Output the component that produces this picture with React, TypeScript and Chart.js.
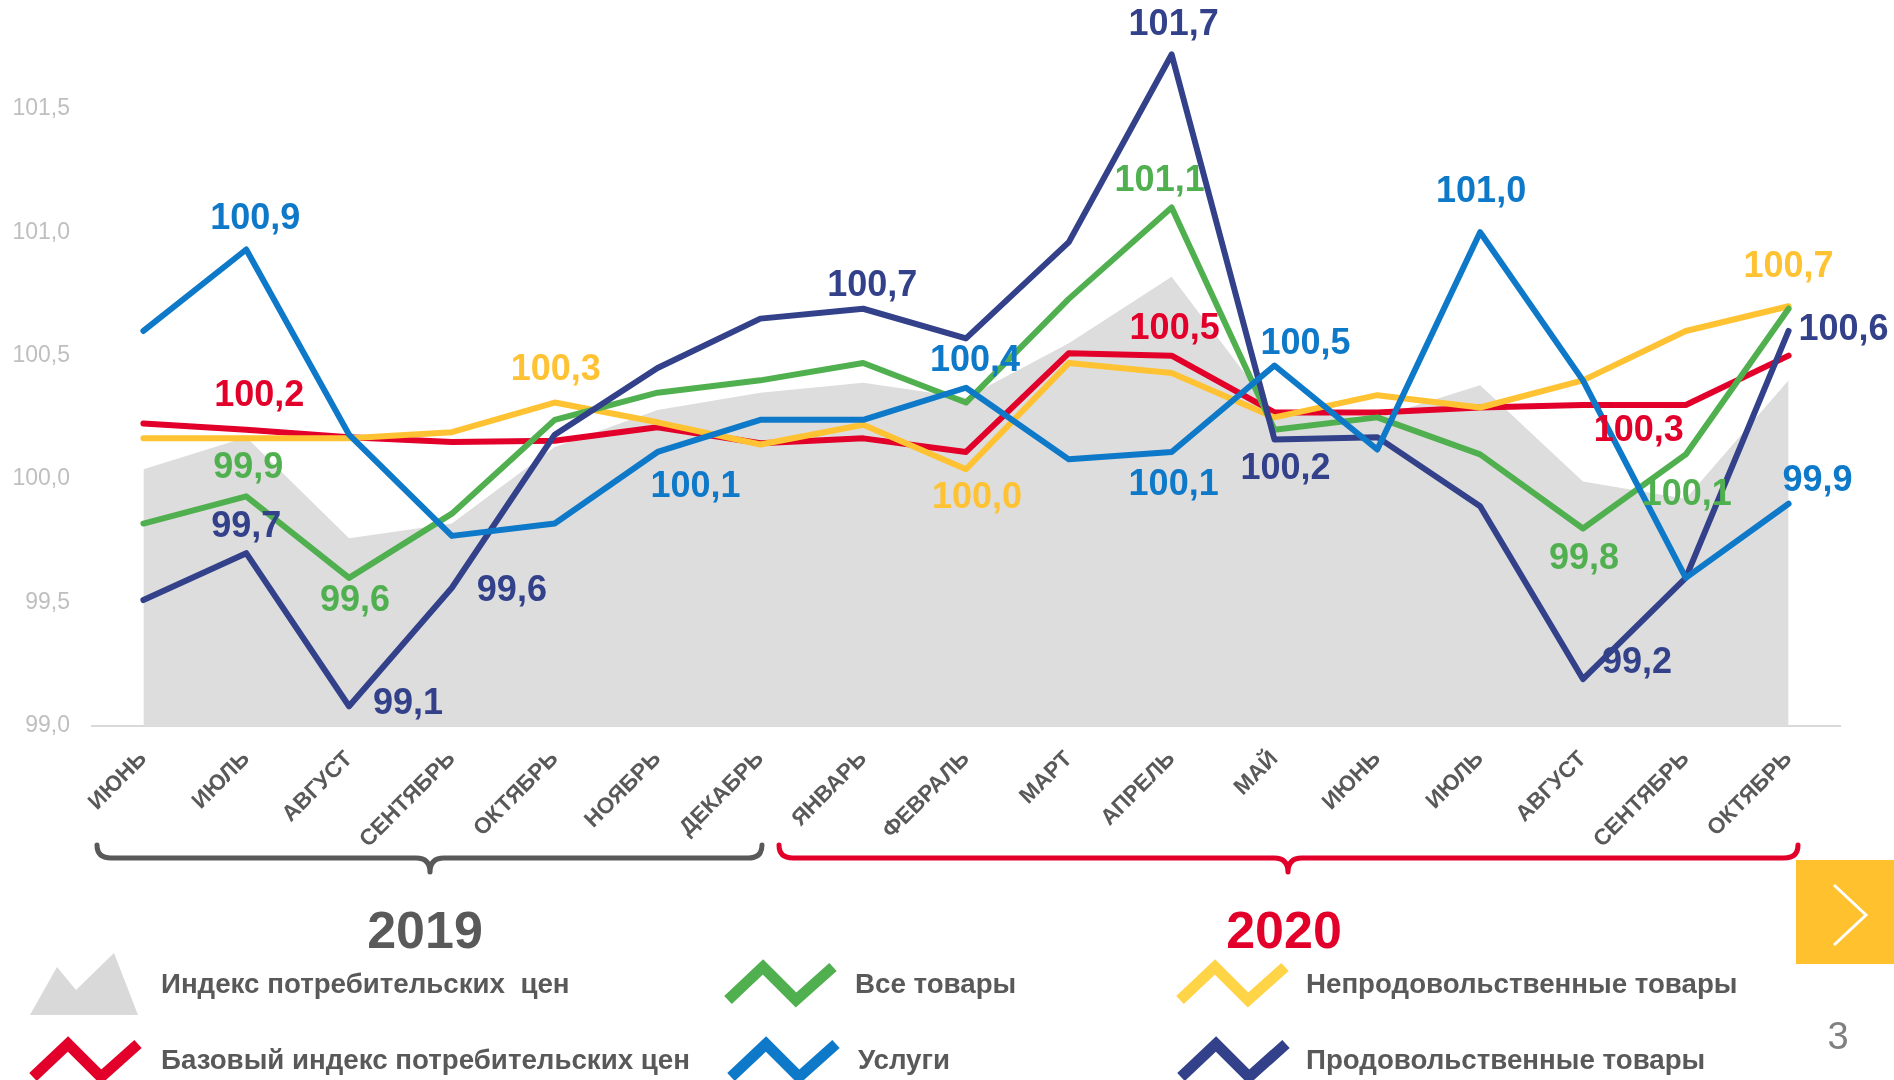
import React, { useEffect, useRef } from "react";
import { Chart, registerables } from "chart.js";

Chart.register(...registerables);

const FONT = '"Liberation Sans", Arial, Helvetica, sans-serif';

// ---- data ----
const months = [
  "ИЮНЬ", "ИЮЛЬ", "АВГУСТ", "СЕНТЯБРЬ", "ОКТЯБРЬ", "НОЯБРЬ", "ДЕКАБРЬ",
  "ЯНВАРЬ", "ФЕВРАЛЬ", "МАРТ", "АПРЕЛЬ", "МАЙ", "ИЮНЬ", "ИЮЛЬ", "АВГУСТ", "СЕНТЯБРЬ", "ОКТЯБРЬ",
];
const cpi = [100.04, 100.17, 99.76, 99.82, 100.13, 100.28, 100.35, 100.39, 100.33, 100.55, 100.82, 100.27, 100.25, 100.38, 99.99, 99.92, 100.4];
const coreCpi = [100.225, 100.2, 100.17, 100.15, 100.155, 100.21, 100.145, 100.165, 100.11, 100.51, 100.5, 100.27, 100.27, 100.29, 100.3, 100.3, 100.5];
const allGoods = [99.82, 99.93, 99.6, 99.86, 100.24, 100.35, 100.4, 100.47, 100.31, 100.73, 101.1, 100.2, 100.25, 100.1, 99.8, 100.1, 100.69];
const nonFood = [100.165, 100.165, 100.165, 100.19, 100.31, 100.23, 100.14, 100.22, 100.04, 100.47, 100.43, 100.25, 100.34, 100.29, 100.4, 100.6, 100.7];
const services = [100.6, 100.93, 100.18, 99.77, 99.82, 100.11, 100.24, 100.24, 100.37, 100.08, 100.11, 100.46, 100.12, 101.0, 100.4, 99.6, 99.9];
const food = [99.51, 99.7, 99.08, 99.56, 100.18, 100.45, 100.65, 100.69, 100.57, 100.96, 101.72, 100.16, 100.17, 99.89, 99.19, 99.6, 100.6];
const yTicks = [99.0, 99.5, 100.0, 100.5, 101.0, 101.5];
const yearLabels = ["2019", "2020"];
const legendNames = [
  "Индекс потребительских  цен",
  "Все товары",
  "Непродовольственные товары",
  "Базовый индекс потребительских цен",
  "Услуги",
  "Продовольственные товары",
];

// ---- styles ----
const C_GRAY = "#DDDDDD";
const C_RED = "#E2002A";
const C_GREEN = "#50B04F";
const C_YELLOW = "#FFC233";
const C_BLUE = "#0E79C9";
const C_NAVY = "#33418A";

// label placements: [pointIndex, dx, dy]
const labelsRed = [[1, 13, -34], [10, 3, -27], [15, -47, 26]];
const labelsYellow = [[4, 1, -32], [8, 11, 29], [16, 0, -39]];
const labelsGreen = [[1, 2, -28], [2, 6, 23], [10, -12, -26], [14, 1, 31], [15, 1, 41]];
const labelsNavy = [[1, 0, -26], [2, 59, -2], [3, 60, 3], [7, 9, -23], [10, 2, -29], [11, 11, 29], [14, 54, -16], [16, 55, -1]];
const labelsBlue = [[1, 9, -30], [5, 38, 35], [8, 9, -27], [10, 2, 33], [11, 31, -21], [13, 1, -40], [16, 29, -23]];

const fmt = (v: number) => (Math.round(v * 10) / 10).toFixed(1).replace(".", ",");

const valueLabelPlugin = {
  id: "valueLabels",
  afterDatasetsDraw(chart: any) {
    const ctx = chart.ctx;
    ctx.save();
    ctx.font = `bold 36px ${FONT}`;
    ctx.textAlign = "center";
    ctx.textBaseline = "middle";
    chart.data.datasets.forEach((ds: any, di: number) => {
      if (!ds.valueLabels) return;
      const meta = chart.getDatasetMeta(di);
      ds.valueLabels.forEach(([i, dx, dy]: number[]) => {
        const p = meta.data[i];
        if (!p) return;
        ctx.fillStyle = ds.labelColor;
        ctx.fillText(fmt(ds.data[i]), p.x + dx, p.y + dy);
      });
    });
    ctx.restore();
  },
};

function Zig({ L, T, color }: { L: number; T: number; color: string }) {
  const pts = `${L + 6},${T + 40} ${L + 41},${T + 7} ${L + 74},${T + 40} ${L + 111},${T + 7}`;
  return <polyline points={pts} fill="none" stroke={color} strokeWidth={11} strokeLinejoin="miter" strokeLinecap="butt" />;
}

function Brace({ x1, x2, cx, color }: { x1: number; x2: number; cx: number; color: string }) {
  const top = 845, mid = 858, tip = 872, r = 14;
  const d = `M ${x1} ${top} Q ${x1} ${mid} ${x1 + r} ${mid} L ${cx - r} ${mid} Q ${cx} ${mid} ${cx} ${tip} Q ${cx} ${mid} ${cx + r} ${mid} L ${x2 - r} ${mid} Q ${x2} ${mid} ${x2} ${top}`;
  return <path d={d} fill="none" stroke={color} strokeWidth={5} strokeLinecap="round" strokeLinejoin="round" />;
}

export default function App() {
  const ref = useRef<HTMLCanvasElement>(null);

  useEffect(() => {
    const line = (label: string, data: number[], color: string, order: number, valueLabels: number[][]) => ({
      type: "line" as const,
      label,
      data,
      borderColor: color,
      backgroundColor: color,
      borderWidth: 6,
      pointRadius: 0,
      tension: 0,
      fill: false,
      order,
      borderCapStyle: "round",
      borderJoinStyle: "round",
      valueLabels,
      labelColor: color,
    });

    const chart = new Chart(ref.current!, {
      type: "line",
      data: {
        labels: months,
        datasets: [
          {
            label: legendNames[0],
            data: cpi,
            fill: "origin",
            backgroundColor: C_GRAY,
            borderColor: C_GRAY,
            borderWidth: 0,
            pointRadius: 0,
            tension: 0,
            order: 10,
          } as any,
          line(legendNames[3], coreCpi, C_RED, 5, labelsRed),
          line(legendNames[2], nonFood, C_YELLOW, 4, labelsYellow),
          line(legendNames[1], allGoods, C_GREEN, 3, labelsGreen),
          line(legendNames[5], food, C_NAVY, 2, labelsNavy),
          line(legendNames[4], services, C_BLUE, 1, labelsBlue),
        ],
      },
      options: {
        responsive: false,
        animation: false,
        layout: { padding: { top: 10, right: 54, left: 0, bottom: 0 } },
        plugins: { legend: { display: false }, tooltip: { enabled: false } },
        scales: {
          x: {
            type: "category",
            offset: true,
            grid: { display: false, drawTicks: false },
            border: { display: true, color: "#D9D9D9", width: 2 },
            ticks: {
              autoSkip: false,
              minRotation: 45,
              maxRotation: 45,
              padding: 20,
              color: "#595959",
              font: { family: FONT, size: 22.5, weight: "bold" },
            },
            afterFit: (s: any) => {
              s.height = 174;
            },
          },
          y: {
            min: 99,
            max: 101.9,
            grid: { display: false, drawTicks: false },
            border: { display: false },
            ticks: {
              stepSize: 0.5,
              padding: 22,
              color: "#BFBFBF",
              font: { family: FONT, size: 23 },
              callback: (v: any) => Number(v).toFixed(1).replace(".", ","),
            },
            afterBuildTicks: (s: any) => {
              s.ticks = yTicks.map((v) => ({ value: v }));
            },
            afterFit: (s: any) => {
              s.width = 92;
              s.paddingTop = 0;
              s.paddingBottom = 0;
            },
          },
        },
      } as any,
      plugins: [valueLabelPlugin],
    });
    return () => chart.destroy();
  }, []);

  const textBase: React.CSSProperties = {
    position: "absolute",
    fontFamily: FONT,
    whiteSpace: "pre",
    lineHeight: "1",
    transform: "translateY(-50%)",
  };
  const legendText: React.CSSProperties = { ...textBase, fontSize: 27.7, fontWeight: "bold", color: "#595959" };

  return (
    <div
      style={{
        position: "fixed",
        left: 0,
        top: 0,
        width: 1894,
        height: 1080,
        background: "#fff",
        overflow: "hidden",
      }}
    >
      <canvas ref={ref} width={1894} height={900} style={{ position: "absolute", left: 0, top: 0, width: 1894, height: 900 }} />
      <svg width={1894} height={1080} style={{ position: "absolute", left: 0, top: 0 }}>
        <Brace x1={97} x2={762} cx={430} color="#595959" />
        <Brace x1={779} x2={1798} cx={1288} color={C_RED} />
        <polygon points="30,1015 57,967 76,990 114,953 138,1015" fill="#D9D9D9" />
        <Zig L={722} T={960} color={C_GREEN} />
        <Zig L={1174} T={960} color="#FFD447" />
        <Zig L={27} T={1037} color={C_RED} />
        <Zig L={725} T={1037} color={C_BLUE} />
        <Zig L={1175} T={1037} color={C_NAVY} />
        <rect x={1796} y={860} width={98} height={104} fill="#FFC22E" />
        <polyline points="1834,885 1866,915 1834,945" fill="none" stroke="#fff" strokeWidth={3} />
      </svg>
      <div style={{ ...textBase, left: 425, top: 930, fontSize: 52, fontWeight: "bold", color: "#595959", transform: "translate(-50%,-50%)" }}>
        {yearLabels[0]}
      </div>
      <div style={{ ...textBase, left: 1284, top: 930, fontSize: 52, fontWeight: "bold", color: C_RED, transform: "translate(-50%,-50%)" }}>
        {yearLabels[1]}
      </div>
      <div style={{ ...legendText, left: 161, top: 984 }}>{legendNames[0]}</div>
      <div style={{ ...legendText, left: 855, top: 984 }}>{legendNames[1]}</div>
      <div style={{ ...legendText, left: 1306, top: 984 }}>{legendNames[2]}</div>
      <div style={{ ...legendText, left: 161, top: 1060 }}>{legendNames[3]}</div>
      <div style={{ ...legendText, left: 858, top: 1060 }}>{legendNames[4]}</div>
      <div style={{ ...legendText, left: 1306, top: 1060 }}>{legendNames[5]}</div>
      <div style={{ ...textBase, left: 1838, top: 1036, fontSize: 38, color: "#808080", transform: "translate(-50%,-50%)" }}>3</div>
    </div>
  );
}
